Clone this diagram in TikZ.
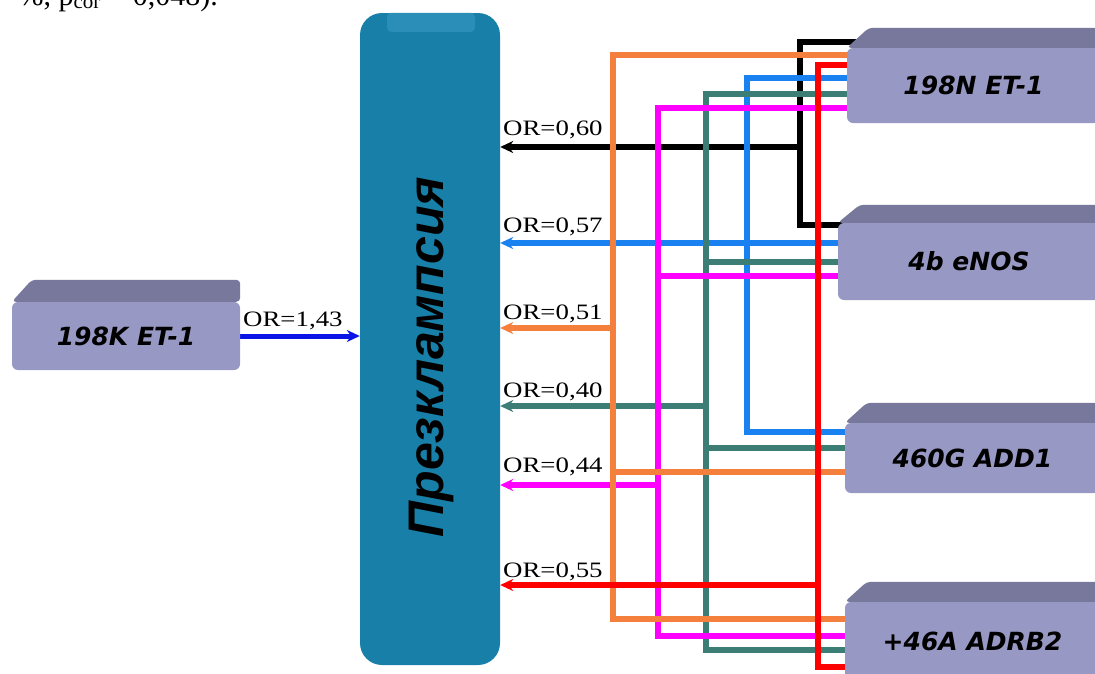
\documentclass[tikz,border=0pt]{standalone}
\usepackage{fontspec}
\setmainfont{Liberation Serif}
\newfontfamily\boxfont{DejaVu Sans}
\newfontfamily\cfont{Liberation Sans}
\usetikzlibrary{arrows.meta,calc}
\pgfdeclarelayer{bg}
\pgfsetlayers{bg,main}
\definecolor{face}{RGB}{152,152,196}
\definecolor{topf}{RGB}{120,120,156}
\definecolor{cbox}{RGB}{24,128,168}
\definecolor{cboxlip}{RGB}{42,142,184}
\definecolor{lorange}{RGB}{245,128,62}
\definecolor{lred}{RGB}{255,0,0}
\definecolor{lblue}{RGB}{25,130,240}
\definecolor{lteal}{RGB}{60,125,118}
\definecolor{lmag}{RGB}{255,0,255}
\definecolor{lnavy}{RGB}{10,20,230}
\newcommand\topface[3]{%
  \fill[topf,rounded corners=4pt] (#1.north west) -- ($(#1.north west)+(#2,-#3)$) -- ($(#1.north east)+(0,-#3)$) -- (#1.north east) -- cycle;}
\begin{document}
\begin{tikzpicture}[x=1pt,y=-1pt,
  conn/.style={line width=6pt},
  arr/.style={conn,-{Stealth[length=13pt,width=12pt]}},
  gene/.style={rectangle,fill=face,rounded corners=6pt,inner sep=0pt,
    font=\boxfont\bfseries\itshape\fontsize{25}{30}\selectfont},
  orlab/.style={anchor=base west,inner sep=0pt,font=\fontsize{22}{26}\selectfont}
]
\useasboundingbox (0,0) rectangle (1095,673);
\clip (0,0) rectangle (1095,673);

% caption fragment cut at the top
\node[anchor=base east,inner sep=0pt,font=\fontsize{30}{36}\selectfont] (cap) at (218,5)
  {\%, p\textsubscript{cor} = 0,048).};

% central box
\node (C) [rectangle,rounded corners=22pt,fill=cbox,minimum width=140pt,minimum height=652pt,inner sep=0pt] at (430,339) {};
\fill[cboxlip,rounded corners=4pt] ($(C.north)+(-43,0)$) rectangle ($(C.north)+(45,19)$);
\node[rotate=90,font=\cfont\bfseries\itshape\fontsize{50}{60}\selectfont,inner sep=0pt] (T) at ($(C.center)+(1,18)$) {Презклампсия};

% gene boxes
\node[gene,minimum width=253pt,minimum height=75pt] (N) at (973.5,85.5) {198N ET-1};
\topface{N}{22}{20}
\node[gene,minimum width=262pt,minimum height=77pt] (E) at (969,261.5) {4b eNOS};
\topface{E}{22}{18}
\node[gene,minimum width=255pt,minimum height=70pt] (D) at (972.5,458) {460G ADD1};
\topface{D}{22}{20}
\node[gene,minimum width=255pt,minimum height=78pt] (A) at (972.5,641) {+46A ADRB2};
\topface{A}{22}{20}
\node[gene,minimum width=228pt,minimum height=68pt] (K) at (126,336) {198K ET-1};
\topface{K}{20}{22}

% junction coordinates
\coordinate (bk1) at (800,42);  \coordinate (bk2) at (800,225); \coordinate (bk3) at (800,147);
\coordinate (bl1) at (747,78);  \coordinate (bl2) at (747,432); \coordinate (bl3) at (747,243);
\coordinate (tl1) at (706,94);  \coordinate (tl2) at (706,650); \coordinate (tl3) at (706,262);
\coordinate (tl4) at (706,406); \coordinate (tl5) at (706,448);
\coordinate (mg1) at (658,108); \coordinate (mg2) at (658,636); \coordinate (mg3) at (658,276);
\coordinate (mg4) at (658,485);
\coordinate (or1) at (613,55);  \coordinate (or2) at (613,619); \coordinate (or3) at (613,328);
\coordinate (or4) at (613,472);
\coordinate (rd1) at (818,65);  \coordinate (rd2) at (818,667); \coordinate (rd3) at (818,585);

\begin{pgfonlayer}{bg}
\fill[white] (0,0) rectangle (1095,673);
% black
\draw[conn,black] ($(bk1 -| N.west)+(14,0)$) -- (bk1) -- (bk2) -- ($(bk2 -| E.west)+(14,0)$);
\draw[arr,black] (bk3) -- (bk3 -| C.east);
% blue
\draw[conn,lblue] ($(bl1 -| N.west)+(14,0)$) -- (bl1) -- (bl2) -- ($(bl2 -| D.west)+(14,0)$);
\draw[arr,lblue] ($(bl3 -| E.west)+(14,0)$) -- (bl3 -| C.east);
% teal
\draw[conn,lteal] ($(tl1 -| N.west)+(14,0)$) -- (tl1) -- (tl2) -- ($(tl2 -| A.west)+(14,0)$);
\draw[conn,lteal] (tl3) -- ($(tl3 -| E.west)+(14,0)$);
\draw[conn,lteal] (tl5) -- ($(tl5 -| D.west)+(14,0)$);
\draw[arr,lteal] (tl4) -- (tl4 -| C.east);
% magenta
\draw[conn,lmag] ($(mg1 -| N.west)+(14,0)$) -- (mg1) -- (mg2) -- ($(mg2 -| A.west)+(14,0)$);
\draw[conn,lmag] (mg3) -- ($(mg3 -| E.west)+(14,0)$);
\draw[arr,lmag] (mg4) -- (mg4 -| C.east);
% orange
\draw[conn,lorange] ($(or1 -| N.west)+(14,0)$) -- (or1) -- (or2) -- ($(or2 -| A.west)+(14,0)$);
\draw[conn,lorange] (or4) -- ($(or4 -| D.west)+(14,0)$);
\draw[arr,lorange] (or3) -- (or3 -| C.east);
% red
\draw[conn,lred] ($(rd1 -| N.west)+(14,0)$) -- (rd1) -- (rd2) -- ($(rd2 -| A.west)+(14,0)$);
\draw[arr,lred] (rd3) -- (rd3 -| C.east);
% navy input
\draw[arr,lnavy,line width=5pt] (K.east) -- (K.east -| C.west);
\end{pgfonlayer}

% labels
\node[orlab] (l0) at (243,326) {\scalebox{1.22}[1]{OR=1,43}};
\node[orlab] (l1) at (503,135) {\scalebox{1.22}[1]{OR=0,60}};
\node[orlab] (l2) at (503,232) {\scalebox{1.22}[1]{OR=0,57}};
\node[orlab] (l3) at (503,319) {\scalebox{1.22}[1]{OR=0,51}};
\node[orlab] (l4) at (503,397) {\scalebox{1.22}[1]{OR=0,40}};
\node[orlab] (l5) at (503,472) {\scalebox{1.22}[1]{OR=0,44}};
\node[orlab] (l6) at (503,577) {\scalebox{1.22}[1]{OR=0,55}};
\end{tikzpicture}
\end{document}
